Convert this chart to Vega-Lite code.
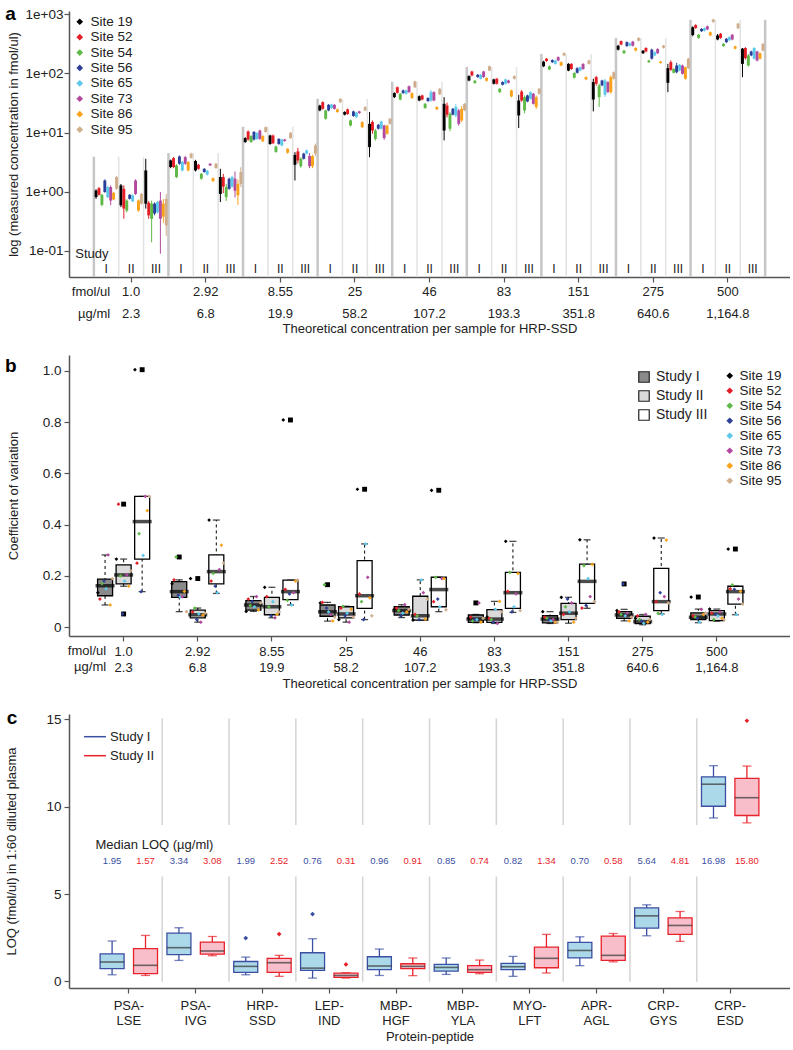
{
"$schema":"https://vega.github.io/schema/vega-lite/v6.json",
"autosize":{"type":"pad"},
"padding":{"left":5,"top":5,"right":0,"bottom":0},
"background":"white",
"bounds":"flush",
"spacing":78,
"config":{"font":"Liberation Sans","view":{"stroke":null},
"axis":{"domainColor":"#555","domainWidth":1.5,"tickColor":"#555","tickWidth":1.2,"labelColor":"#222","titleColor":"#222","titleFontWeight":"normal","grid":false,"labelFontSize":13,"titleFontSize":13,"tickSize":5},
"legend":{"labelFontSize":13,"labelColor":"#222"},
"text":{"color":"#222"}},
"resolve":{"scale":{"color":"independent","fill":"independent","stroke":"independent","x":"independent","y":"independent","xOffset":"independent"},"legend":{"color":"independent","fill":"independent","stroke":"independent"}},
"datasets":{
"a":[
{"k":"1.0 I","site":19,"lo":0.76,"q1":0.81,"q3":1.05,"hi":1.1},{"k":"1.0 I","site":52,"lo":0.86,"q1":0.89,"q3":1.15,"hi":1.2},{"k":"1.0 I","site":54,"lo":0.57,"q1":0.6,"q3":0.89,"hi":0.92},{"k":"1.0 I","site":56,"lo":0.96,"q1":0.99,"q3":1.55,"hi":1.62},{"k":"1.0 I","site":65,"lo":0.78,"q1":0.81,"q3":1.2,"hi":1.25},{"k":"1.0 I","site":73,"lo":0.59,"q1":0.71,"q3":1.2,"hi":1.28},{"k":"1.0 I","site":86,"lo":0.72,"q1":0.74,"q3":0.96,"hi":0.99},{"k":"1.0 I","site":95,"lo":1.08,"q1":1.12,"q3":1.77,"hi":1.85},
{"k":"1.0 II","site":19,"lo":0.55,"q1":0.59,"q3":1.28,"hi":1.35},{"k":"1.0 II","site":52,"lo":0.35,"q1":0.52,"q3":1.12,"hi":1.28},{"k":"1.0 II","site":54,"lo":0.45,"q1":0.48,"q3":0.71,"hi":0.75},{"k":"1.0 II","site":56,"lo":0.74,"q1":0.76,"q3":0.89,"hi":0.91},{"k":"1.0 II","site":65,"lo":0.67,"q1":0.69,"q3":0.87,"hi":0.9},{"k":"1.0 II","site":73,"lo":0.88,"q1":0.92,"q3":1.55,"hi":1.62},{"k":"1.0 II","site":86,"lo":0.46,"q1":0.48,"q3":0.71,"hi":0.74},{"k":"1.0 II","site":95,"lo":0.6,"q1":0.63,"q3":0.92,"hi":0.96},
{"k":"1.0 III","site":19,"lo":0.52,"q1":0.63,"q3":2.29,"hi":3.6},{"k":"1.0 III","site":52,"lo":0.35,"q1":0.4,"q3":0.65,"hi":0.7},{"k":"1.0 III","site":54,"lo":0.14,"q1":0.35,"q3":0.63,"hi":0.71},{"k":"1.0 III","site":56,"lo":0.4,"q1":0.43,"q3":0.63,"hi":0.66},{"k":"1.0 III","site":65,"lo":0.43,"q1":0.45,"q3":0.67,"hi":0.7},{"k":"1.0 III","site":73,"lo":0.09,"q1":0.35,"q3":0.71,"hi":0.99},{"k":"1.0 III","site":86,"lo":0.3,"q1":0.38,"q3":0.63,"hi":0.75},{"k":"1.0 III","site":95,"lo":0.18,"q1":0.27,"q3":0.76,"hi":0.92},
{"k":"2.92 I","site":19,"lo":2.5,"q1":2.61,"q3":3.38,"hi":3.5},{"k":"2.92 I","site":52,"lo":2.5,"q1":2.61,"q3":3.7,"hi":3.85},{"k":"2.92 I","site":54,"lo":1.7,"q1":1.77,"q3":2.78,"hi":2.9},{"k":"2.92 I","site":56,"lo":2.85,"q1":2.97,"q3":3.94,"hi":4.1},{"k":"2.92 I","site":65,"lo":2.2,"q1":2.29,"q3":3.17,"hi":3.3},{"k":"2.92 I","site":73,"lo":2.85,"q1":2.97,"q3":3.84,"hi":4.0},{"k":"2.92 I","site":86,"lo":2.2,"q1":2.29,"q3":3.17,"hi":3.3},{"k":"2.92 I","site":95,"lo":3.6,"q1":3.74,"q3":4.4,"hi":4.55},
{"k":"2.92 II","site":19,"lo":2.2,"q1":2.29,"q3":3.3,"hi":3.45},{"k":"2.92 II","site":52,"lo":2.35,"q1":2.44,"q3":2.86,"hi":2.95},{"k":"2.92 II","site":54,"lo":1.6,"q1":1.66,"q3":2.01,"hi":2.08},{"k":"2.92 II","site":56,"lo":2.1,"q1":2.15,"q3":2.44,"hi":2.5},{"k":"2.92 II","site":65,"lo":1.88,"q1":1.94,"q3":2.26,"hi":2.33},{"k":"2.92 II","site":73,"lo":2.72,"q1":2.78,"q3":2.97,"hi":3.03},{"k":"2.92 II","site":86,"lo":1.47,"q1":1.51,"q3":1.7,"hi":1.74},{"k":"2.92 II","site":95,"lo":2.45,"q1":2.51,"q3":2.97,"hi":3.05},
{"k":"2.92 III","site":19,"lo":0.67,"q1":0.92,"q3":1.77,"hi":2.44},{"k":"2.92 III","site":52,"lo":0.95,"q1":1.22,"q3":1.77,"hi":2.0},{"k":"2.92 III","site":54,"lo":0.7,"q1":0.81,"q3":1.2,"hi":1.35},{"k":"2.92 III","site":56,"lo":1.08,"q1":1.12,"q3":1.66,"hi":1.72},{"k":"2.92 III","site":65,"lo":1.18,"q1":1.22,"q3":1.77,"hi":1.85},{"k":"2.92 III","site":73,"lo":0.8,"q1":1.04,"q3":1.66,"hi":2.2},{"k":"2.92 III","site":86,"lo":0.6,"q1":0.87,"q3":1.36,"hi":1.6},{"k":"2.92 III","site":95,"lo":1.2,"q1":1.36,"q3":2.15,"hi":2.6},
{"k":"8.55 I","site":19,"lo":6.7,"q1":6.9,"q3":8.05,"hi":8.3},{"k":"8.55 I","site":52,"lo":7.3,"q1":7.6,"q3":10.4,"hi":10.8},{"k":"8.55 I","site":54,"lo":6.7,"q1":6.9,"q3":8.7,"hi":9.0},{"k":"8.55 I","site":56,"lo":7.3,"q1":7.6,"q3":10.2,"hi":10.6},{"k":"8.55 I","site":65,"lo":7.5,"q1":7.8,"q3":9.8,"hi":10.1},{"k":"8.55 I","site":73,"lo":7.5,"q1":7.8,"q3":10.8,"hi":11.2},{"k":"8.55 I","site":86,"lo":6.9,"q1":7.1,"q3":8.7,"hi":9.0},{"k":"8.55 I","site":95,"lo":9.9,"q1":10.2,"q3":12.3,"hi":12.7},
{"k":"8.55 II","site":19,"lo":6.2,"q1":6.4,"q3":8.9,"hi":9.2},{"k":"8.55 II","site":52,"lo":6.4,"q1":6.6,"q3":8.9,"hi":9.2},{"k":"8.55 II","site":54,"lo":4.55,"q1":4.7,"q3":5.8,"hi":6.0},{"k":"8.55 II","site":56,"lo":6.2,"q1":6.4,"q3":7.8,"hi":8.0},{"k":"8.55 II","site":65,"lo":5.85,"q1":6.05,"q3":7.6,"hi":7.85},{"k":"8.55 II","site":73,"lo":7.0,"q1":7.2,"q3":7.6,"hi":7.8},{"k":"8.55 II","site":86,"lo":4.4,"q1":4.55,"q3":5.3,"hi":5.45},{"k":"8.55 II","site":95,"lo":7.8,"q1":8.05,"q3":9.9,"hi":10.2},
{"k":"8.55 III","site":19,"lo":1.55,"q1":2.85,"q3":4.2,"hi":4.67},{"k":"8.55 III","site":52,"lo":3.0,"q1":3.38,"q3":4.8,"hi":5.5},{"k":"8.55 III","site":54,"lo":2.55,"q1":2.7,"q3":3.6,"hi":3.8},{"k":"8.55 III","site":56,"lo":3.5,"q1":3.6,"q3":4.4,"hi":4.55},{"k":"8.55 III","site":65,"lo":4.3,"q1":4.4,"q3":5.0,"hi":5.15},{"k":"8.55 III","site":73,"lo":2.5,"q1":2.7,"q3":4.0,"hi":4.5},{"k":"8.55 III","site":86,"lo":2.5,"q1":2.7,"q3":4.0,"hi":4.2},{"k":"8.55 III","site":95,"lo":4.0,"q1":4.4,"q3":6.05,"hi":6.5},
{"k":"25 I","site":19,"lo":22.8,"q1":23.6,"q3":28.5,"hi":29.3},{"k":"25 I","site":52,"lo":24.3,"q1":25.1,"q3":32.5,"hi":33.5},{"k":"25 I","site":54,"lo":16.5,"q1":17.1,"q3":23.6,"hi":24.3},{"k":"25 I","site":56,"lo":22.8,"q1":23.6,"q3":29.3,"hi":30.2},{"k":"25 I","site":65,"lo":25.1,"q1":25.9,"q3":29.7,"hi":30.6},{"k":"25 I","site":73,"lo":24.3,"q1":25.1,"q3":29.3,"hi":30.2},{"k":"25 I","site":86,"lo":21.5,"q1":22.2,"q3":24.6,"hi":25.3},{"k":"25 I","site":95,"lo":31.5,"q1":32.5,"q3":37,"hi":38},
{"k":"25 II","site":19,"lo":19.4,"q1":20.0,"q3":22.2,"hi":22.9},{"k":"25 II","site":52,"lo":19.9,"q1":20.5,"q3":24.6,"hi":25.3},{"k":"25 II","site":54,"lo":12.7,"q1":13.1,"q3":16,"hi":16.5},{"k":"25 II","site":56,"lo":18.4,"q1":19.0,"q3":22.7,"hi":23.4},{"k":"25 II","site":65,"lo":17.6,"q1":18.2,"q3":21.6,"hi":22.3},{"k":"25 II","site":73,"lo":20.7,"q1":21.3,"q3":22.7,"hi":23.3},{"k":"25 II","site":86,"lo":11.9,"q1":12.3,"q3":15,"hi":15.5},{"k":"25 II","site":95,"lo":22.9,"q1":23.6,"q3":26.9,"hi":27.7},
{"k":"25 III","site":19,"lo":3.84,"q1":5.66,"q3":14.0,"hi":22.2},{"k":"25 III","site":52,"lo":9.5,"q1":10.8,"q3":15,"hi":16},{"k":"25 III","site":54,"lo":7.3,"q1":7.8,"q3":10.8,"hi":11.5},{"k":"25 III","site":56,"lo":11.2,"q1":11.6,"q3":13.5,"hi":13.9},{"k":"25 III","site":65,"lo":11.2,"q1":11.6,"q3":15.3,"hi":15.8},{"k":"25 III","site":73,"lo":7.5,"q1":8.05,"q3":13.1,"hi":13.5},{"k":"25 III","site":86,"lo":9.2,"q1":9.5,"q3":13.1,"hi":13.5},{"k":"25 III","site":95,"lo":13.6,"q1":14.0,"q3":17.1,"hi":17.6},
{"k":"46 I","site":19,"lo":38.3,"q1":39.5,"q3":46.3,"hi":47.7},{"k":"46 I","site":52,"lo":45.4,"q1":46.8,"q3":58,"hi":60},{"k":"46 I","site":54,"lo":34.9,"q1":36.0,"q3":45.1,"hi":46.5},{"k":"46 I","site":56,"lo":44.9,"q1":46.3,"q3":51.4,"hi":53},{"k":"46 I","site":65,"lo":43.7,"q1":45.1,"q3":51.4,"hi":53},{"k":"46 I","site":73,"lo":46.6,"q1":48,"q3":60.4,"hi":62.2},{"k":"46 I","site":86,"lo":37,"q1":38.2,"q3":46.3,"hi":47.7},{"k":"46 I","site":95,"lo":56.3,"q1":58,"q3":72.9,"hi":75},
{"k":"46 II","site":19,"lo":33.7,"q1":34.7,"q3":41,"hi":42.2},{"k":"46 II","site":52,"lo":35,"q1":36,"q3":42.2,"hi":43.5},{"k":"46 II","site":54,"lo":25.1,"q1":25.9,"q3":30.5,"hi":31.4},{"k":"46 II","site":56,"lo":32.9,"q1":33.9,"q3":38.2,"hi":39.3},{"k":"46 II","site":65,"lo":33,"q1":34.7,"q3":48,"hi":52},{"k":"46 II","site":73,"lo":33.7,"q1":34.7,"q3":48,"hi":49.4},{"k":"46 II","site":86,"lo":23.9,"q1":24.6,"q3":26.9,"hi":27.7},{"k":"46 II","site":95,"lo":42.7,"q1":44,"q3":54.7,"hi":56.3},
{"k":"46 III","site":19,"lo":7.35,"q1":10.8,"q3":30.5,"hi":39.5},{"k":"46 III","site":52,"lo":18,"q1":20,"q3":28.5,"hi":32},{"k":"46 III","site":54,"lo":10.5,"q1":11.6,"q3":20.8,"hi":22},{"k":"46 III","site":56,"lo":19.4,"q1":20,"q3":25.1,"hi":25.9},{"k":"46 III","site":65,"lo":18,"q1":19.4,"q3":26.9,"hi":30},{"k":"46 III","site":73,"lo":13,"q1":14,"q3":23.6,"hi":25},{"k":"46 III","site":86,"lo":15,"q1":16,"q3":25.1,"hi":28},{"k":"46 III","site":95,"lo":22.9,"q1":23.6,"q3":30.5,"hi":31.4},
{"k":"83 I","site":19,"lo":73.2,"q1":75.5,"q3":89.6,"hi":92.3},{"k":"83 I","site":52,"lo":89,"q1":91.8,"q3":107,"hi":110},{"k":"83 I","site":54,"lo":66.3,"q1":68.4,"q3":74.7,"hi":77},{"k":"83 I","site":56,"lo":83.7,"q1":86.3,"q3":94.3,"hi":97.1},{"k":"83 I","site":65,"lo":78.4,"q1":80.8,"q3":94.3,"hi":97.1},{"k":"83 I","site":73,"lo":83.7,"q1":86.3,"q3":107,"hi":110},{"k":"83 I","site":86,"lo":72.5,"q1":74.7,"q3":83,"hi":85.5},{"k":"83 I","site":95,"lo":108,"q1":111,"q3":131,"hi":135},
{"k":"83 II","site":19,"lo":64.5,"q1":66.5,"q3":78.7,"hi":81},{"k":"83 II","site":52,"lo":64.5,"q1":66.5,"q3":80.8,"hi":83.2},{"k":"83 II","site":54,"lo":46.6,"q1":48,"q3":54.7,"hi":56.3},{"k":"83 II","site":56,"lo":62.1,"q1":64,"q3":71,"hi":73.1},{"k":"83 II","site":65,"lo":64.5,"q1":66.5,"q3":78.7,"hi":81},{"k":"83 II","site":73,"lo":67,"q1":69,"q3":75.5,"hi":77.8},{"k":"83 II","site":86,"lo":39.4,"q1":40.6,"q3":51.4,"hi":52.9},{"k":"83 II","site":95,"lo":78.4,"q1":80.8,"q3":89.6,"hi":92.3},
{"k":"83 III","site":19,"lo":11.9,"q1":19.4,"q3":34.7,"hi":43.3},{"k":"83 III","site":52,"lo":33,"q1":34.7,"q3":49.1,"hi":52},{"k":"83 III","site":54,"lo":21,"q1":23.6,"q3":39.5,"hi":42},{"k":"83 III","site":56,"lo":32.4,"q1":33.4,"q3":42.2,"hi":43.5},{"k":"83 III","site":65,"lo":35.9,"q1":37,"q3":48,"hi":49.4},{"k":"83 III","site":73,"lo":29.6,"q1":30.5,"q3":45.1,"hi":46.5},{"k":"83 III","site":86,"lo":25,"q1":26.9,"q3":39.5,"hi":42},{"k":"83 III","site":95,"lo":43.7,"q1":45.1,"q3":54.7,"hi":56.3},
{"k":"151 I","site":19,"lo":127,"q1":131,"q3":157,"hi":162},{"k":"151 I","site":52,"lo":156,"q1":161,"q3":176,"hi":181},{"k":"151 I","site":54,"lo":113,"q1":116,"q3":131,"hi":135},{"k":"151 I","site":56,"lo":149,"q1":154,"q3":167,"hi":172},{"k":"151 I","site":65,"lo":140,"q1":144,"q3":164,"hi":169},{"k":"151 I","site":73,"lo":159,"q1":164,"q3":187,"hi":193},{"k":"151 I","site":86,"lo":131,"q1":135,"q3":154,"hi":159},{"k":"151 I","site":95,"lo":194,"q1":200,"q3":219,"hi":226},
{"k":"151 II","site":19,"lo":108,"q1":111,"q3":144,"hi":148},{"k":"151 II","site":52,"lo":114,"q1":118,"q3":144,"hi":148},{"k":"151 II","site":54,"lo":81.5,"q1":84,"q3":101,"hi":104},{"k":"151 II","site":56,"lo":99,"q1":102,"q3":122,"hi":126},{"k":"151 II","site":65,"lo":108,"q1":111,"q3":126,"hi":130},{"k":"151 II","site":73,"lo":114,"q1":118,"q3":144,"hi":148},{"k":"151 II","site":86,"lo":76.3,"q1":78.7,"q3":86,"hi":88.6},{"k":"151 II","site":95,"lo":140,"q1":144,"q3":164,"hi":169},
{"k":"151 III","site":19,"lo":22.7,"q1":36,"q3":71,"hi":80.8},{"k":"151 III","site":52,"lo":62,"q1":66.5,"q3":86,"hi":90},{"k":"151 III","site":54,"lo":26.9,"q1":39.5,"q3":62.4,"hi":66.5},{"k":"151 III","site":56,"lo":60.5,"q1":62.4,"q3":75.5,"hi":77.8},{"k":"151 III","site":65,"lo":40,"q1":43.3,"q3":75.5,"hi":80},{"k":"151 III","site":73,"lo":46.6,"q1":48,"q3":71,"hi":73.1},{"k":"151 III","site":86,"lo":45,"q1":48,"q3":86,"hi":92},{"k":"151 III","site":95,"lo":78.4,"q1":80.8,"q3":104,"hi":107},
{"k":"275 I","site":19,"lo":243,"q1":250,"q3":292,"hi":301},{"k":"275 I","site":52,"lo":296,"q1":305,"q3":348,"hi":358},{"k":"275 I","site":54,"lo":211,"q1":218,"q3":241,"hi":248},{"k":"275 I","site":56,"lo":279,"q1":288,"q3":335,"hi":345},{"k":"275 I","site":65,"lo":283,"q1":292,"q3":321,"hi":331},{"k":"275 I","site":73,"lo":283,"q1":292,"q3":342,"hi":352},{"k":"275 I","site":86,"lo":234,"q1":241,"q3":267,"hi":275},{"k":"275 I","site":95,"lo":344,"q1":355,"q3":394,"hi":406},
{"k":"275 II","site":19,"lo":211,"q1":218,"q3":240,"hi":247},{"k":"275 II","site":52,"lo":226,"q1":233,"q3":267,"hi":275},{"k":"275 II","site":54,"lo":149,"q1":154,"q3":164,"hi":169},{"k":"275 II","site":56,"lo":170,"q1":176,"q3":250,"hi":260},{"k":"275 II","site":65,"lo":194,"q1":200,"q3":226,"hi":233},{"k":"275 II","site":73,"lo":211,"q1":218,"q3":256,"hi":264},{"k":"275 II","site":86,"lo":145,"q1":149,"q3":157,"hi":162},{"k":"275 II","site":95,"lo":261,"q1":269,"q3":292,"hi":301},
{"k":"275 III","site":19,"lo":48,"q1":69,"q3":122,"hi":144},{"k":"275 III","site":52,"lo":110,"q1":114,"q3":154,"hi":165},{"k":"275 III","site":54,"lo":99,"q1":102,"q3":118,"hi":122},{"k":"275 III","site":56,"lo":100,"q1":104,"q3":135,"hi":150},{"k":"275 III","site":65,"lo":108,"q1":111,"q3":139,"hi":143},{"k":"275 III","site":73,"lo":95,"q1":98,"q3":135,"hi":140},{"k":"275 III","site":86,"lo":78,"q1":80.8,"q3":126,"hi":130},{"k":"275 III","site":95,"lo":118,"q1":122,"q3":176,"hi":181},
{"k":"500 I","site":19,"lo":420,"q1":441,"q3":596,"hi":620},{"k":"500 I","site":52,"lo":563,"q1":580,"q3":651,"hi":671},{"k":"500 I","site":54,"lo":382,"q1":394,"q3":447,"hi":460},{"k":"500 I","site":56,"lo":498,"q1":513,"q3":560,"hi":577},{"k":"500 I","site":65,"lo":507,"q1":523,"q3":575,"hi":592},{"k":"500 I","site":73,"lo":534,"q1":550,"q3":620,"hi":639},{"k":"500 I","site":86,"lo":422,"q1":435,"q3":493,"hi":508},{"k":"500 I","site":95,"lo":713,"q1":735,"q3":805,"hi":829},
{"k":"500 II","site":19,"lo":360,"q1":372,"q3":435,"hi":460},{"k":"500 II","site":52,"lo":382,"q1":394,"q3":464,"hi":478},{"k":"500 II","site":54,"lo":279,"q1":288,"q3":314,"hi":323},{"k":"500 II","site":56,"lo":325,"q1":335,"q3":382,"hi":393},{"k":"500 II","site":65,"lo":350,"q1":361,"q3":408,"hi":420},{"k":"500 II","site":73,"lo":361,"q1":372,"q3":447,"hi":460},{"k":"500 II","site":86,"lo":252,"q1":260,"q3":284,"hi":293},{"k":"500 II","site":95,"lo":558,"q1":575,"q3":687,"hi":708},
{"k":"500 III","site":19,"lo":86,"q1":144,"q3":260,"hi":267},{"k":"500 III","site":52,"lo":170,"q1":180,"q3":267,"hi":275},{"k":"500 III","site":54,"lo":130,"q1":135,"q3":200,"hi":210},{"k":"500 III","site":56,"lo":194,"q1":200,"q3":233,"hi":240},{"k":"500 III","site":65,"lo":171,"q1":176,"q3":267,"hi":275},{"k":"500 III","site":73,"lo":159,"q1":164,"q3":233,"hi":240},{"k":"500 III","site":86,"lo":171,"q1":176,"q3":218,"hi":225},{"k":"500 III","site":95,"lo":234,"q1":241,"q3":314,"hi":323}
],
"aSep":[
{"k":"1.0 I","s":"I","top":3.9},{"k":"1.0 II","s":"II","top":3.9},{"k":"1.0 III","s":"III","top":3.9},
{"k":"2.92 I","s":"I","top":4.5},{"k":"2.92 II","s":"II","top":4.5},{"k":"2.92 III","s":"III","top":4.5},
{"k":"8.55 I","s":"I","top":12.5},{"k":"8.55 II","s":"II","top":12.5},{"k":"8.55 III","s":"III","top":12.5},
{"k":"25 I","s":"I","top":37},{"k":"25 II","s":"II","top":37},{"k":"25 III","s":"III","top":37},
{"k":"46 I","s":"I","top":72},{"k":"46 II","s":"II","top":72},{"k":"46 III","s":"III","top":72},
{"k":"83 I","s":"I","top":128},{"k":"83 II","s":"II","top":128},{"k":"83 III","s":"III","top":128},
{"k":"151 I","s":"I","top":212},{"k":"151 II","s":"II","top":212},{"k":"151 III","s":"III","top":212},
{"k":"275 I","s":"I","top":395},{"k":"275 II","s":"II","top":395},{"k":"275 III","s":"III","top":395},
{"k":"500 I","s":"I","top":800},{"k":"500 II","s":"II","top":800},{"k":"500 III","s":"III","top":800}
],
"bBox":[
{"k":"1.0 I","s":"I","lo":0.087,"q1":0.123,"med":0.162,"q3":0.188,"hi":0.282},
{"k":"1.0 II","s":"II","lo":0.16,"q1":0.169,"med":0.204,"q3":0.243,"hi":0.266},
{"k":"1.0 III","s":"III","lo":0.139,"q1":0.266,"med":0.412,"q3":0.51,"hi":0.51},
{"k":"2.92 I","s":"I","lo":0.061,"q1":0.117,"med":0.139,"q3":0.178,"hi":0.185},
{"k":"2.92 II","s":"II","lo":0.02,"q1":0.037,"med":0.049,"q3":0.067,"hi":0.075},
{"k":"2.92 III","s":"III","lo":0.132,"q1":0.169,"med":0.217,"q3":0.282,"hi":0.418},
{"k":"8.55 I","s":"I","lo":0.062,"q1":0.067,"med":0.087,"q3":0.104,"hi":0.12},
{"k":"8.55 II","s":"II","lo":0.037,"q1":0.049,"med":0.08,"q3":0.117,"hi":0.156},
{"k":"8.55 III","s":"III","lo":0.087,"q1":0.108,"med":0.139,"q3":0.184,"hi":0.184},
{"k":"25 I","s":"I","lo":0.024,"q1":0.043,"med":0.061,"q3":0.087,"hi":0.097},
{"k":"25 II","s":"II","lo":0.02,"q1":0.037,"med":0.052,"q3":0.08,"hi":0.082},
{"k":"25 III","s":"III","lo":0.03,"q1":0.074,"med":0.123,"q3":0.26,"hi":0.325},
{"k":"46 I","s":"I","lo":0.038,"q1":0.048,"med":0.065,"q3":0.08,"hi":0.088},
{"k":"46 II","s":"II","lo":0.028,"q1":0.028,"med":0.045,"q3":0.121,"hi":0.185},
{"k":"46 III","s":"III","lo":0.061,"q1":0.08,"med":0.147,"q3":0.195,"hi":0.195},
{"k":"83 I","s":"I","lo":0.018,"q1":0.019,"med":0.032,"q3":0.048,"hi":0.05},
{"k":"83 II","s":"II","lo":0.015,"q1":0.019,"med":0.032,"q3":0.069,"hi":0.101},
{"k":"83 III","s":"III","lo":0.058,"q1":0.074,"med":0.135,"q3":0.214,"hi":0.335},
{"k":"151 I","s":"I","lo":0.015,"q1":0.017,"med":0.032,"q3":0.045,"hi":0.061},
{"k":"151 II","s":"II","lo":0.016,"q1":0.03,"med":0.055,"q3":0.093,"hi":0.117},
{"k":"151 III","s":"III","lo":0.074,"q1":0.093,"med":0.179,"q3":0.246,"hi":0.341},
{"k":"275 I","s":"I","lo":0.025,"q1":0.035,"med":0.048,"q3":0.061,"hi":0.07},
{"k":"275 II","s":"II","lo":0.01,"q1":0.014,"med":0.022,"q3":0.043,"hi":0.05},
{"k":"275 III","s":"III","lo":0.052,"q1":0.065,"med":0.1,"q3":0.23,"hi":0.348},
{"k":"500 I","s":"I","lo":0.018,"q1":0.03,"med":0.039,"q3":0.056,"hi":0.071},
{"k":"500 II","s":"II","lo":0.024,"q1":0.026,"med":0.052,"q3":0.065,"hi":0.071},
{"k":"500 III","s":"III","lo":0.049,"q1":0.09,"med":0.139,"q3":0.16,"hi":0.16}
],
"bOut":[
{"k":"1.0 II","v":0.48},{"k":"1.0 II","v":0.052},{"k":"1.0 III","v":1.004},{"k":"2.92 I","v":0.274},{"k":"2.92 II","v":0.19},{"k":"8.55 III","v":0.808},{"k":"25 I","v":0.166},{"k":"25 III","v":0.538},{"k":"46 III","v":0.534},{"k":"83 I","v":0.095},{"k":"275 I","v":0.169},{"k":"500 I","v":0.118},{"k":"500 III","v":0.305}
],
"bDot":[
{"k":"1.0 I","site":19,"v":0.135},{"k":"1.0 I","site":52,"v":0.11},{"k":"1.0 I","site":54,"v":0.17},{"k":"1.0 I","site":56,"v":0.18},{"k":"1.0 I","site":65,"v":0.15},{"k":"1.0 I","site":73,"v":0.282},{"k":"1.0 I","site":86,"v":0.087},{"k":"1.0 I","site":95,"v":0.19},
{"k":"1.0 II","site":19,"v":0.266},{"k":"1.0 II","site":52,"v":0.48},{"k":"1.0 II","site":54,"v":0.2},{"k":"1.0 II","site":56,"v":0.052},{"k":"1.0 II","site":65,"v":0.18},{"k":"1.0 II","site":73,"v":0.205},{"k":"1.0 II","site":86,"v":0.16},{"k":"1.0 II","site":95,"v":0.22},
{"k":"1.0 III","site":19,"v":1.004},{"k":"1.0 III","site":52,"v":0.25},{"k":"1.0 III","site":54,"v":0.365},{"k":"1.0 III","site":56,"v":0.139},{"k":"1.0 III","site":65,"v":0.28},{"k":"1.0 III","site":73,"v":0.51},{"k":"1.0 III","site":86,"v":0.455},{"k":"1.0 III","site":95,"v":0.51},
{"k":"2.92 I","site":19,"v":0.17},{"k":"2.92 I","site":52,"v":0.185},{"k":"2.92 I","site":54,"v":0.274},{"k":"2.92 I","site":56,"v":0.125},{"k":"2.92 I","site":65,"v":0.118},{"k":"2.92 I","site":73,"v":0.12},{"k":"2.92 I","site":86,"v":0.14},{"k":"2.92 I","site":95,"v":0.061},
{"k":"2.92 II","site":19,"v":0.19},{"k":"2.92 II","site":52,"v":0.06},{"k":"2.92 II","site":54,"v":0.075},{"k":"2.92 II","site":56,"v":0.03},{"k":"2.92 II","site":65,"v":0.052},{"k":"2.92 II","site":73,"v":0.02},{"k":"2.92 II","site":86,"v":0.047},{"k":"2.92 II","site":95,"v":0.055},
{"k":"2.92 III","site":19,"v":0.418},{"k":"2.92 III","site":52,"v":0.18},{"k":"2.92 III","site":54,"v":0.21},{"k":"2.92 III","site":56,"v":0.16},{"k":"2.92 III","site":65,"v":0.135},{"k":"2.92 III","site":73,"v":0.225},{"k":"2.92 III","site":86,"v":0.32},{"k":"2.92 III","site":95,"v":0.25},
{"k":"8.55 I","site":19,"v":0.062},{"k":"8.55 I","site":52,"v":0.11},{"k":"8.55 I","site":54,"v":0.085},{"k":"8.55 I","site":56,"v":0.1},{"k":"8.55 I","site":65,"v":0.08},{"k":"8.55 I","site":73,"v":0.12},{"k":"8.55 I","site":86,"v":0.068},{"k":"8.55 I","site":95,"v":0.095},
{"k":"8.55 II","site":19,"v":0.156},{"k":"8.55 II","site":52,"v":0.12},{"k":"8.55 II","site":54,"v":0.08},{"k":"8.55 II","site":56,"v":0.045},{"k":"8.55 II","site":65,"v":0.1},{"k":"8.55 II","site":73,"v":0.037},{"k":"8.55 II","site":86,"v":0.05},{"k":"8.55 II","site":95,"v":0.06},
{"k":"8.55 III","site":19,"v":0.808},{"k":"8.55 III","site":52,"v":0.148},{"k":"8.55 III","site":54,"v":0.105},{"k":"8.55 III","site":56,"v":0.13},{"k":"8.55 III","site":65,"v":0.087},{"k":"8.55 III","site":73,"v":0.135},{"k":"8.55 III","site":86,"v":0.18},{"k":"8.55 III","site":95,"v":0.184},
{"k":"25 I","site":19,"v":0.095},{"k":"25 I","site":52,"v":0.097},{"k":"25 I","site":54,"v":0.166},{"k":"25 I","site":56,"v":0.075},{"k":"25 I","site":65,"v":0.06},{"k":"25 I","site":73,"v":0.05},{"k":"25 I","site":86,"v":0.025},{"k":"25 I","site":95,"v":0.04},
{"k":"25 II","site":19,"v":0.03},{"k":"25 II","site":52,"v":0.075},{"k":"25 II","site":54,"v":0.082},{"k":"25 II","site":56,"v":0.045},{"k":"25 II","site":65,"v":0.055},{"k":"25 II","site":73,"v":0.02},{"k":"25 II","site":86,"v":0.07},{"k":"25 II","site":95,"v":0.04},
{"k":"25 III","site":19,"v":0.538},{"k":"25 III","site":52,"v":0.13},{"k":"25 III","site":54,"v":0.1},{"k":"25 III","site":56,"v":0.03},{"k":"25 III","site":65,"v":0.325},{"k":"25 III","site":73,"v":0.195},{"k":"25 III","site":86,"v":0.115},{"k":"25 III","site":95,"v":0.045},
{"k":"46 I","site":19,"v":0.07},{"k":"46 I","site":52,"v":0.075},{"k":"46 I","site":54,"v":0.065},{"k":"46 I","site":56,"v":0.045},{"k":"46 I","site":65,"v":0.055},{"k":"46 I","site":73,"v":0.088},{"k":"46 I","site":86,"v":0.06},{"k":"46 I","site":95,"v":0.07},
{"k":"46 II","site":19,"v":0.028},{"k":"46 II","site":52,"v":0.05},{"k":"46 II","site":54,"v":0.045},{"k":"46 II","site":56,"v":0.03},{"k":"46 II","site":65,"v":0.185},{"k":"46 II","site":73,"v":0.135},{"k":"46 II","site":86,"v":0.032},{"k":"46 II","site":95,"v":0.11},
{"k":"46 III","site":19,"v":0.534},{"k":"46 III","site":52,"v":0.1},{"k":"46 III","site":54,"v":0.195},{"k":"46 III","site":56,"v":0.11},{"k":"46 III","site":65,"v":0.08},{"k":"46 III","site":73,"v":0.19},{"k":"46 III","site":86,"v":0.19},{"k":"46 III","site":95,"v":0.068},
{"k":"83 I","site":19,"v":0.035},{"k":"83 I","site":52,"v":0.04},{"k":"83 I","site":54,"v":0.025},{"k":"83 I","site":56,"v":0.03},{"k":"83 I","site":65,"v":0.03},{"k":"83 I","site":73,"v":0.095},{"k":"83 I","site":86,"v":0.02},{"k":"83 I","site":95,"v":0.035},
{"k":"83 II","site":19,"v":0.04},{"k":"83 II","site":52,"v":0.035},{"k":"83 II","site":54,"v":0.03},{"k":"83 II","site":56,"v":0.02},{"k":"83 II","site":65,"v":0.07},{"k":"83 II","site":73,"v":0.015},{"k":"83 II","site":86,"v":0.101},{"k":"83 II","site":95,"v":0.06},
{"k":"83 III","site":19,"v":0.335},{"k":"83 III","site":52,"v":0.14},{"k":"83 III","site":54,"v":0.214},{"k":"83 III","site":56,"v":0.06},{"k":"83 III","site":65,"v":0.08},{"k":"83 III","site":73,"v":0.13},{"k":"83 III","site":86,"v":0.21},{"k":"83 III","site":95,"v":0.065},
{"k":"151 I","site":19,"v":0.061},{"k":"151 I","site":52,"v":0.04},{"k":"151 I","site":54,"v":0.035},{"k":"151 I","site":56,"v":0.03},{"k":"151 I","site":65,"v":0.025},{"k":"151 I","site":73,"v":0.03},{"k":"151 I","site":86,"v":0.02},{"k":"151 I","site":95,"v":0.02},
{"k":"151 II","site":19,"v":0.117},{"k":"151 II","site":52,"v":0.05},{"k":"151 II","site":54,"v":0.08},{"k":"151 II","site":56,"v":0.11},{"k":"151 II","site":65,"v":0.06},{"k":"151 II","site":73,"v":0.095},{"k":"151 II","site":86,"v":0.02},{"k":"151 II","site":95,"v":0.035},
{"k":"151 III","site":19,"v":0.341},{"k":"151 III","site":52,"v":0.075},{"k":"151 III","site":54,"v":0.24},{"k":"151 III","site":56,"v":0.085},{"k":"151 III","site":65,"v":0.19},{"k":"151 III","site":73,"v":0.12},{"k":"151 III","site":86,"v":0.245},{"k":"151 III","site":95,"v":0.1},
{"k":"275 I","site":19,"v":0.065},{"k":"275 I","site":52,"v":0.06},{"k":"275 I","site":54,"v":0.05},{"k":"275 I","site":56,"v":0.169},{"k":"275 I","site":65,"v":0.045},{"k":"275 I","site":73,"v":0.055},{"k":"275 I","site":86,"v":0.025},{"k":"275 I","site":95,"v":0.04},
{"k":"275 II","site":19,"v":0.035},{"k":"275 II","site":52,"v":0.045},{"k":"275 II","site":54,"v":0.03},{"k":"275 II","site":56,"v":0.025},{"k":"275 II","site":65,"v":0.015},{"k":"275 II","site":73,"v":0.05},{"k":"275 II","site":86,"v":0.02},{"k":"275 II","site":95,"v":0.03},
{"k":"275 III","site":19,"v":0.348},{"k":"275 III","site":52,"v":0.1},{"k":"275 III","site":54,"v":0.055},{"k":"275 III","site":56,"v":0.135},{"k":"275 III","site":65,"v":0.05},{"k":"275 III","site":73,"v":0.12},{"k":"275 III","site":86,"v":0.34},{"k":"275 III","site":95,"v":0.095},
{"k":"500 I","site":19,"v":0.118},{"k":"500 I","site":52,"v":0.045},{"k":"500 I","site":54,"v":0.04},{"k":"500 I","site":56,"v":0.035},{"k":"500 I","site":65,"v":0.02},{"k":"500 I","site":73,"v":0.07},{"k":"500 I","site":86,"v":0.05},{"k":"500 I","site":95,"v":0.055},
{"k":"500 II","site":19,"v":0.071},{"k":"500 II","site":52,"v":0.055},{"k":"500 II","site":54,"v":0.03},{"k":"500 II","site":56,"v":0.05},{"k":"500 II","site":65,"v":0.045},{"k":"500 II","site":73,"v":0.06},{"k":"500 II","site":86,"v":0.035},{"k":"500 II","site":95,"v":0.03},
{"k":"500 III","site":19,"v":0.305},{"k":"500 III","site":52,"v":0.15},{"k":"500 III","site":54,"v":0.165},{"k":"500 III","site":56,"v":0.148},{"k":"500 III","site":65,"v":0.05},{"k":"500 III","site":73,"v":0.11},{"k":"500 III","site":86,"v":0.14},{"k":"500 III","site":95,"v":0.09}
],
"cBox":[
{"p":"PSA-LSE","s":"I","lo":0.38,"q1":0.73,"med":1.11,"q3":1.58,"hi":2.31},
{"p":"PSA-LSE","s":"II","lo":0.34,"q1":0.44,"med":0.92,"q3":1.87,"hi":2.63},
{"p":"PSA-IVG","s":"I","lo":1.2,"q1":1.53,"med":1.93,"q3":2.76,"hi":3.07},
{"p":"PSA-IVG","s":"II","lo":1.47,"q1":1.56,"med":1.74,"q3":2.25,"hi":2.57},
{"p":"HRP-SSD","s":"I","lo":0.38,"q1":0.52,"med":0.86,"q3":1.14,"hi":1.39},
{"p":"HRP-SSD","s":"II","lo":0.29,"q1":0.52,"med":1.07,"q3":1.32,"hi":1.49},
{"p":"LEP-IND","s":"I","lo":0.19,"q1":0.63,"med":0.76,"q3":1.64,"hi":2.44},
{"p":"LEP-IND","s":"II","lo":0.19,"q1":0.23,"med":0.34,"q3":0.47,"hi":0.5},
{"p":"MBP-HGF","s":"I","lo":0.34,"q1":0.67,"med":0.88,"q3":1.41,"hi":1.85},
{"p":"MBP-HGF","s":"II","lo":0.33,"q1":0.73,"med":0.86,"q3":1.01,"hi":1.34},
{"p":"MBP-YLA","s":"I","lo":0.4,"q1":0.59,"med":0.8,"q3":0.97,"hi":1.34},
{"p":"MBP-YLA","s":"II","lo":0.44,"q1":0.52,"med":0.67,"q3":0.9,"hi":1.22},
{"p":"MYO-LFT","s":"I","lo":0.29,"q1":0.67,"med":0.84,"q3":1.03,"hi":1.43},
{"p":"MYO-LFT","s":"II","lo":0.48,"q1":0.78,"med":1.32,"q3":1.96,"hi":2.69},
{"p":"APR-AGL","s":"I","lo":0.9,"q1":1.35,"med":1.77,"q3":2.23,"hi":2.55},
{"p":"APR-AGL","s":"II","lo":1.12,"q1":1.2,"med":1.49,"q3":2.59,"hi":2.74},
{"p":"CRP-GYS","s":"I","lo":2.61,"q1":3.05,"med":3.75,"q3":4.21,"hi":4.38},
{"p":"CRP-GYS","s":"II","lo":2.29,"q1":2.69,"med":3.2,"q3":3.64,"hi":4.0},
{"p":"CRP-ESD","s":"I","lo":9.35,"q1":10.02,"med":11.28,"q3":11.7,"hi":12.34},
{"p":"CRP-ESD","s":"II","lo":9.07,"q1":9.49,"med":10.51,"q3":11.62,"hi":12.32}
],
"cOut":[
{"p":"HRP-SSD","s":"I","v":2.48},{"p":"HRP-SSD","s":"II","v":2.71},{"p":"LEP-IND","s":"I","v":3.85},{"p":"LEP-IND","s":"II","v":0.97},{"p":"CRP-ESD","s":"II","v":14.91}
],
"cMed":[
{"p":"PSA-LSE","s":"I","lab":"1.95"},{"p":"PSA-LSE","s":"II","lab":"1.57"},{"p":"PSA-IVG","s":"I","lab":"3.34"},{"p":"PSA-IVG","s":"II","lab":"3.08"},{"p":"HRP-SSD","s":"I","lab":"1.99"},{"p":"HRP-SSD","s":"II","lab":"2.52"},{"p":"LEP-IND","s":"I","lab":"0.76"},{"p":"LEP-IND","s":"II","lab":"0.31"},{"p":"MBP-HGF","s":"I","lab":"0.96"},{"p":"MBP-HGF","s":"II","lab":"0.91"},{"p":"MBP-YLA","s":"I","lab":"0.85"},{"p":"MBP-YLA","s":"II","lab":"0.74"},{"p":"MYO-LFT","s":"I","lab":"0.82"},{"p":"MYO-LFT","s":"II","lab":"1.34"},{"p":"APR-AGL","s":"I","lab":"0.70"},{"p":"APR-AGL","s":"II","lab":"0.58"},{"p":"CRP-GYS","s":"I","lab":"5.64"},{"p":"CRP-GYS","s":"II","lab":"4.81"},{"p":"CRP-ESD","s":"I","lab":"16.98"},{"p":"CRP-ESD","s":"II","lab":"15.80"}
],
"cSep":[{"p":"PSA-IVG"},{"p":"HRP-SSD"},{"p":"LEP-IND"},{"p":"MBP-HGF"},{"p":"MBP-YLA"},{"p":"MYO-LFT"},{"p":"APR-AGL"},{"p":"CRP-GYS"},{"p":"CRP-ESD"}]
},
"vconcat":[
{
"width":721,"height":266,
"layer":[
{"data":{"name":"aSep"},"transform":[{"filter":"datum.s == 'I'"}],
"mark":{"type":"rule","color":"#c6c6c6","strokeWidth":2.5},
"encoding":{
"x":{"field":"k","type":"nominal","bandPosition":0,
"scale":{"domain":["1.0 I","1.0 II","1.0 III","2.92 I","2.92 II","2.92 III","8.55 I","8.55 II","8.55 III","25 I","25 II","25 III","46 I","46 II","46 III","83 I","83 II","83 III","151 I","151 II","151 III","275 I","275 II","275 III","500 I","500 II","500 III"],"paddingInner":0,"paddingOuter":1},
"axis":{"title":"Theoretical concentration per sample for HRP-SSD","values":["1.0 II","2.92 II","8.55 II","25 II","46 II","83 II","151 II","275 II","500 II"],
"labelExpr":"[split(datum.label,' ')[0], datum.label=='1.0 II'?'2.3':datum.label=='2.92 II'?'6.8':datum.label=='8.55 II'?'19.9':datum.label=='25 II'?'58.2':datum.label=='46 II'?'107.2':datum.label=='83 II'?'193.3':datum.label=='151 II'?'351.8':datum.label=='275 II'?'640.6':'1,164.8']",
"labelAngle":0,"labelLineHeight":22,"labelPadding":3,"titlePadding":2}},
"y":{"field":"top","type":"quantitative","scale":{"type":"log","domain":[0.0364,1124],"nice":false},
"axis":{"title":"log (measured concentration in fmol/ul)","values":[0.1,1,10,100,1000],
"labelExpr":"datum.value < 0.5 ? '1e-01' : datum.value < 5 ? '1e+00' : datum.value < 50 ? '1e+01' : datum.value < 500 ? '1e+02' : '1e+03'",
"labelFontSize":13.5,"labelPadding":1,"titlePadding":5}},
"y2":{"datum":0.0364}}},
{"data":{"name":"aSep"},"transform":[{"filter":"datum.s != 'I'"}],
"mark":{"type":"rule","color":"#e2e2e2","strokeWidth":1.5},
"encoding":{"x":{"field":"k","type":"nominal","bandPosition":0},"y":{"field":"top","type":"quantitative"},"y2":{"datum":0.0364}}},
{"data":{"values":[{"k":"500 III","top":800}]},
"mark":{"type":"rule","color":"#c6c6c6","strokeWidth":2.5},
"encoding":{"x":{"field":"k","type":"nominal","bandPosition":1},"y":{"field":"top","type":"quantitative"},"y2":{"datum":0.0364}}},
{"data":{"name":"a"},
"mark":{"type":"bar"},
"encoding":{"x":{"field":"k","type":"nominal"},
"xOffset":{"field":"site","type":"nominal","scale":{"domain":[19,52,54,56,65,73,86,95],"paddingInner":0,"paddingOuter":0.25}},
"y":{"field":"q1","type":"quantitative"},"y2":{"field":"q3"},
"color":{"field":"site","type":"nominal","scale":{"domain":[19,52,54,56,65,73,86,95],"range":["#000000","#e41e26","#5fb946","#2d3f98","#5dc8ea","#b24a9f","#f9a21a","#cfae8c"]},
"legend":{"title":null,"orient":"none","legendX":4,"legendY":4,"symbolType":"diamond","symbolSize":45,"symbolStrokeWidth":0,"labelFontSize":13.5,"labelOffset":4,"rowPadding":0.4,"labelExpr":"'Site ' + datum.label"}}}},
{"data":{"name":"a"},
"mark":{"type":"rule","strokeWidth":1},
"encoding":{"x":{"field":"k","type":"nominal"},
"xOffset":{"field":"site","type":"nominal"},
"y":{"field":"lo","type":"quantitative"},"y2":{"field":"hi"},
"color":{"field":"site","type":"nominal","legend":null}}},
{"data":{"name":"aSep"},
"mark":{"type":"text","fontSize":12,"baseline":"middle"},
"encoding":{"x":{"field":"k","type":"nominal"},"y":{"datum":0.05},"text":{"field":"s"}}},
{"data":{"values":[{}]},
"mark":{"type":"text","text":"Study","fontSize":13,"align":"left","baseline":"middle","dx":-31},
"encoding":{"x":{"datum":"1.0 I"},"y":{"datum":0.09}}},
{"data":{"values":[{}]},
"mark":{"type":"text","text":"fmol/ul","fontSize":13,"align":"right","baseline":"middle","dx":-21,"dy":15},
"encoding":{"x":{"datum":"1.0 II"},"y":{"datum":0.0364}}},
{"data":{"values":[{}]},
"mark":{"type":"text","text":"µg/ml","fontSize":13,"align":"right","baseline":"middle","dx":-21,"dy":37},
"encoding":{"x":{"datum":"1.0 II"},"y":{"datum":0.0364}}},
{"data":{"values":[{}]},
"mark":{"type":"text","text":"a","fontSize":19,"fontWeight":"bold","align":"left","baseline":"alphabetic","dx":-101,"color":"#000"},
"encoding":{"x":{"datum":"1.0 I"},"y":{"datum":784}}}
]
},
{
"width":721,"height":281,
"layer":[
{"data":{"name":"bBox"},
"mark":{"type":"rule","color":"#000","strokeWidth":1,"strokeDash":[3,3]},
"encoding":{
"x":{"field":"k","type":"nominal",
"scale":{"domain":["pre","1.0 I","1.0 II","1.0 III","1.0 gap","2.92 I","2.92 II","2.92 III","2.92 gap","8.55 I","8.55 II","8.55 III","8.55 gap","25 I","25 II","25 III","25 gap","46 I","46 II","46 III","46 gap","83 I","83 II","83 III","83 gap","151 I","151 II","151 III","151 gap","275 I","275 II","275 III","275 gap","500 I","500 II","500 III","500 gap","post"],"paddingInner":0,"paddingOuter":0.446},
"axis":{"title":"Theoretical concentration per sample for HRP-SSD","values":["1.0 II","2.92 II","8.55 II","25 II","46 II","83 II","151 II","275 II","500 II"],
"labelExpr":"[split(datum.label,' ')[0], datum.label=='1.0 II'?'2.3':datum.label=='2.92 II'?'6.8':datum.label=='8.55 II'?'19.9':datum.label=='25 II'?'58.2':datum.label=='46 II'?'107.2':datum.label=='83 II'?'193.3':datum.label=='151 II'?'351.8':datum.label=='275 II'?'640.6':'1,164.8']",
"labelAngle":0,"labelLineHeight":16,"labelPadding":4,"titlePadding":3}},
"y":{"field":"lo","type":"quantitative","scale":{"domain":[-0.0339,1.0612],"nice":false,"zero":false},
"axis":{"title":"Coefficient of variation","values":[0,0.2,0.4,0.6,0.8,1],"labelExpr":"datum.value == 0 ? '0' : format(datum.value, '.1f')","labelFontSize":13.5,"labelPadding":3,"titlePadding":22}},
"y2":{"field":"hi"}}},
{"data":{"name":"bBox"},
"mark":{"type":"tick","color":"#000","thickness":1.3,"size":7},
"encoding":{"x":{"field":"k","type":"nominal"},"y":{"field":"lo","type":"quantitative"}}},
{"data":{"name":"bBox"},
"mark":{"type":"tick","color":"#000","thickness":1.3,"size":7},
"encoding":{"x":{"field":"k","type":"nominal"},"y":{"field":"hi","type":"quantitative"}}},
{"data":{"name":"bBox"},
"mark":{"type":"bar","width":15,"stroke":"#000","strokeWidth":1.3},
"encoding":{"x":{"field":"k","type":"nominal"},"y":{"field":"q1","type":"quantitative"},"y2":{"field":"q3"},
"fill":{"field":"s","type":"nominal","scale":{"domain":["I","II","III"],"range":["#8a8a8a","#dadada","#ffffff"]},
"legend":{"title":null,"orient":"none","legendX":568,"legendY":15,"symbolType":"square","symbolSize":110,"symbolStrokeColor":"#222","symbolStrokeWidth":1.2,"labelFontSize":14,"labelOffset":5,"rowPadding":3,"labelExpr":"'Study ' + datum.label"}}}},
{"data":{"name":"bBox"},
"mark":{"type":"tick","color":"#000","thickness":3.5,"size":19},
"encoding":{"x":{"field":"k","type":"nominal"},"y":{"field":"med","type":"quantitative"}}},
{"data":{"name":"bOut"},
"mark":{"type":"point","shape":"square","filled":true,"color":"#000","size":24,"opacity":1},
"encoding":{"x":{"field":"k","type":"nominal"},"y":{"field":"v","type":"quantitative"}}},
{"data":{"name":"bDot"},
"mark":{"type":"point","shape":"diamond","filled":true,"size":14,"opacity":1},
"encoding":{"x":{"field":"k","type":"nominal"},
"xOffset":{"field":"site","type":"nominal","scale":{"domain":[19,52,54,56,65,73,86,95],"paddingInner":0,"paddingOuter":1}},
"y":{"field":"v","type":"quantitative"},
"color":{"field":"site","type":"nominal","scale":{"domain":[19,52,54,56,65,73,86,95],"range":["#000000","#e41e26","#5fb946","#2d3f98","#5dc8ea","#b24a9f","#f9a21a","#cfae8c"]},
"legend":{"title":null,"orient":"none","legendX":654,"legendY":14,"symbolType":"diamond","symbolSize":45,"labelFontSize":13.5,"labelOffset":3,"rowPadding":0,"labelExpr":"'Site ' + datum.label"}}}},
{"data":{"values":[{}]},
"mark":{"type":"text","text":"fmol/ul","fontSize":13,"align":"right","baseline":"middle","dx":-17.5,"dy":14.7},
"encoding":{"x":{"datum":"1.0 II"},"y":{"datum":-0.0339}}},
{"data":{"values":[{}]},
"mark":{"type":"text","text":"µg/ml","fontSize":13,"align":"right","baseline":"middle","dx":-17.5,"dy":30.7},
"encoding":{"x":{"datum":"1.0 II"},"y":{"datum":-0.0339}}},
{"data":{"values":[{}]},
"mark":{"type":"text","text":"b","fontSize":19,"fontWeight":"bold","align":"left","baseline":"alphabetic","dx":-100,"color":"#000"},
"encoding":{"x":{"datum":"1.0 I"},"y":{"datum":0.994}}}
]
},
{
"width":721,"height":274,
"layer":[
{"data":{"name":"cSep"},
"mark":{"type":"rule","color":"#d4d4d4","strokeWidth":1.5},
"encoding":{"x":{"field":"p","type":"nominal","bandPosition":0,
"scale":{"domain":["PSA-LSE","PSA-IVG","HRP-SSD","LEP-IND","MBP-HGF","MBP-YLA","MYO-LFT","APR-AGL","CRP-GYS","CRP-ESD"],"paddingInner":0,"paddingOuter":0.395},
"axis":{"title":"Protein-peptide","labelExpr":"[split(datum.label,'-')[0]+'-', split(datum.label,'-')[1]]","labelAngle":0,"labelLineHeight":15.7,"labelPadding":6,"titlePadding":3}},
"y":{"datum":15.04,"type":"quantitative","scale":{"domain":[-0.377,15.297],"nice":false,"zero":false},
"axis":{"title":"LOQ (fmol/ul) in 1:60 diluted plasma","values":[0,5,10,15],"labelFontSize":13.5,"labelPadding":3,"titlePadding":27}},
"y2":{"datum":8.95}}},
{"data":{"name":"cSep"},
"mark":{"type":"rule","color":"#d4d4d4","strokeWidth":1.5},
"encoding":{"x":{"field":"p","type":"nominal","bandPosition":0},"y":{"datum":6.0},"y2":{"datum":-0.02}}},
{"data":{"name":"cBox"},
"mark":{"type":"rule","strokeWidth":1.3},
"encoding":{"x":{"field":"p","type":"nominal"},
"xOffset":{"field":"s","type":"nominal","scale":{"domain":["I","II"],"paddingInner":0,"paddingOuter":0}},
"y":{"field":"lo","type":"quantitative"},"y2":{"field":"hi"},
"color":{"field":"s","type":"nominal","scale":{"domain":["I","II"],"range":["#3b4fa3","#e8222a"]},
"legend":{"title":null,"orient":"none","legendX":14,"legendY":10.7,"symbolType":"stroke","symbolSize":480,"symbolStrokeWidth":1.5,"labelFontSize":13,"labelOffset":3,"rowPadding":0,"labelExpr":"'Study ' + datum.label"}}}},
{"data":{"name":"cBox"},
"mark":{"type":"tick","thickness":1.3,"size":9},
"encoding":{"x":{"field":"p","type":"nominal"},"xOffset":{"field":"s","type":"nominal"},"y":{"field":"lo","type":"quantitative"},"color":{"field":"s","type":"nominal","legend":null}}},
{"data":{"name":"cBox"},
"mark":{"type":"tick","thickness":1.3,"size":9},
"encoding":{"x":{"field":"p","type":"nominal"},"xOffset":{"field":"s","type":"nominal"},"y":{"field":"hi","type":"quantitative"},"color":{"field":"s","type":"nominal","legend":null}}},
{"data":{"name":"cBox"},
"mark":{"type":"bar","width":24,"strokeWidth":1.3},
"encoding":{"x":{"field":"p","type":"nominal"},"xOffset":{"field":"s","type":"nominal"},"y":{"field":"q1","type":"quantitative"},"y2":{"field":"q3"},
"fill":{"field":"s","type":"nominal","scale":{"domain":["I","II"],"range":["#acd9e9","#f8bfcb"]},"legend":null},
"stroke":{"field":"s","type":"nominal","scale":{"domain":["I","II"],"range":["#3b4fa3","#e8222a"]},"legend":null}}},
{"data":{"name":"cBox"},
"mark":{"type":"tick","thickness":1.6,"size":24,"color":"#333"},
"encoding":{"x":{"field":"p","type":"nominal"},"xOffset":{"field":"s","type":"nominal"},"y":{"field":"med","type":"quantitative"}}},
{"data":{"name":"cOut"},
"mark":{"type":"point","shape":"diamond","filled":true,"size":22,"opacity":1},
"encoding":{"x":{"field":"p","type":"nominal"},"xOffset":{"field":"s","type":"nominal"},"y":{"field":"v","type":"quantitative"},"color":{"field":"s","type":"nominal","legend":null}}},
{"data":{"name":"cMed"},
"mark":{"type":"text","fontSize":9.5,"baseline":"middle"},
"encoding":{"x":{"field":"p","type":"nominal"},"xOffset":{"field":"s","type":"nominal"},"y":{"datum":6.91},"text":{"field":"lab"},"color":{"field":"s","type":"nominal","legend":null}}},
{"data":{"values":[{}]},
"mark":{"type":"text","text":"Median LOQ (µg/ml)","fontSize":13,"align":"left","baseline":"middle","dx":-33.4},
"encoding":{"x":{"datum":"PSA-LSE"},"y":{"datum":7.83}}},
{"data":{"values":[{}]},
"mark":{"type":"text","text":"c","fontSize":19,"fontWeight":"bold","align":"left","baseline":"alphabetic","dx":-122,"color":"#000"},
"encoding":{"x":{"datum":"PSA-LSE"},"y":{"datum":14.73}}}
]
}
]
}
